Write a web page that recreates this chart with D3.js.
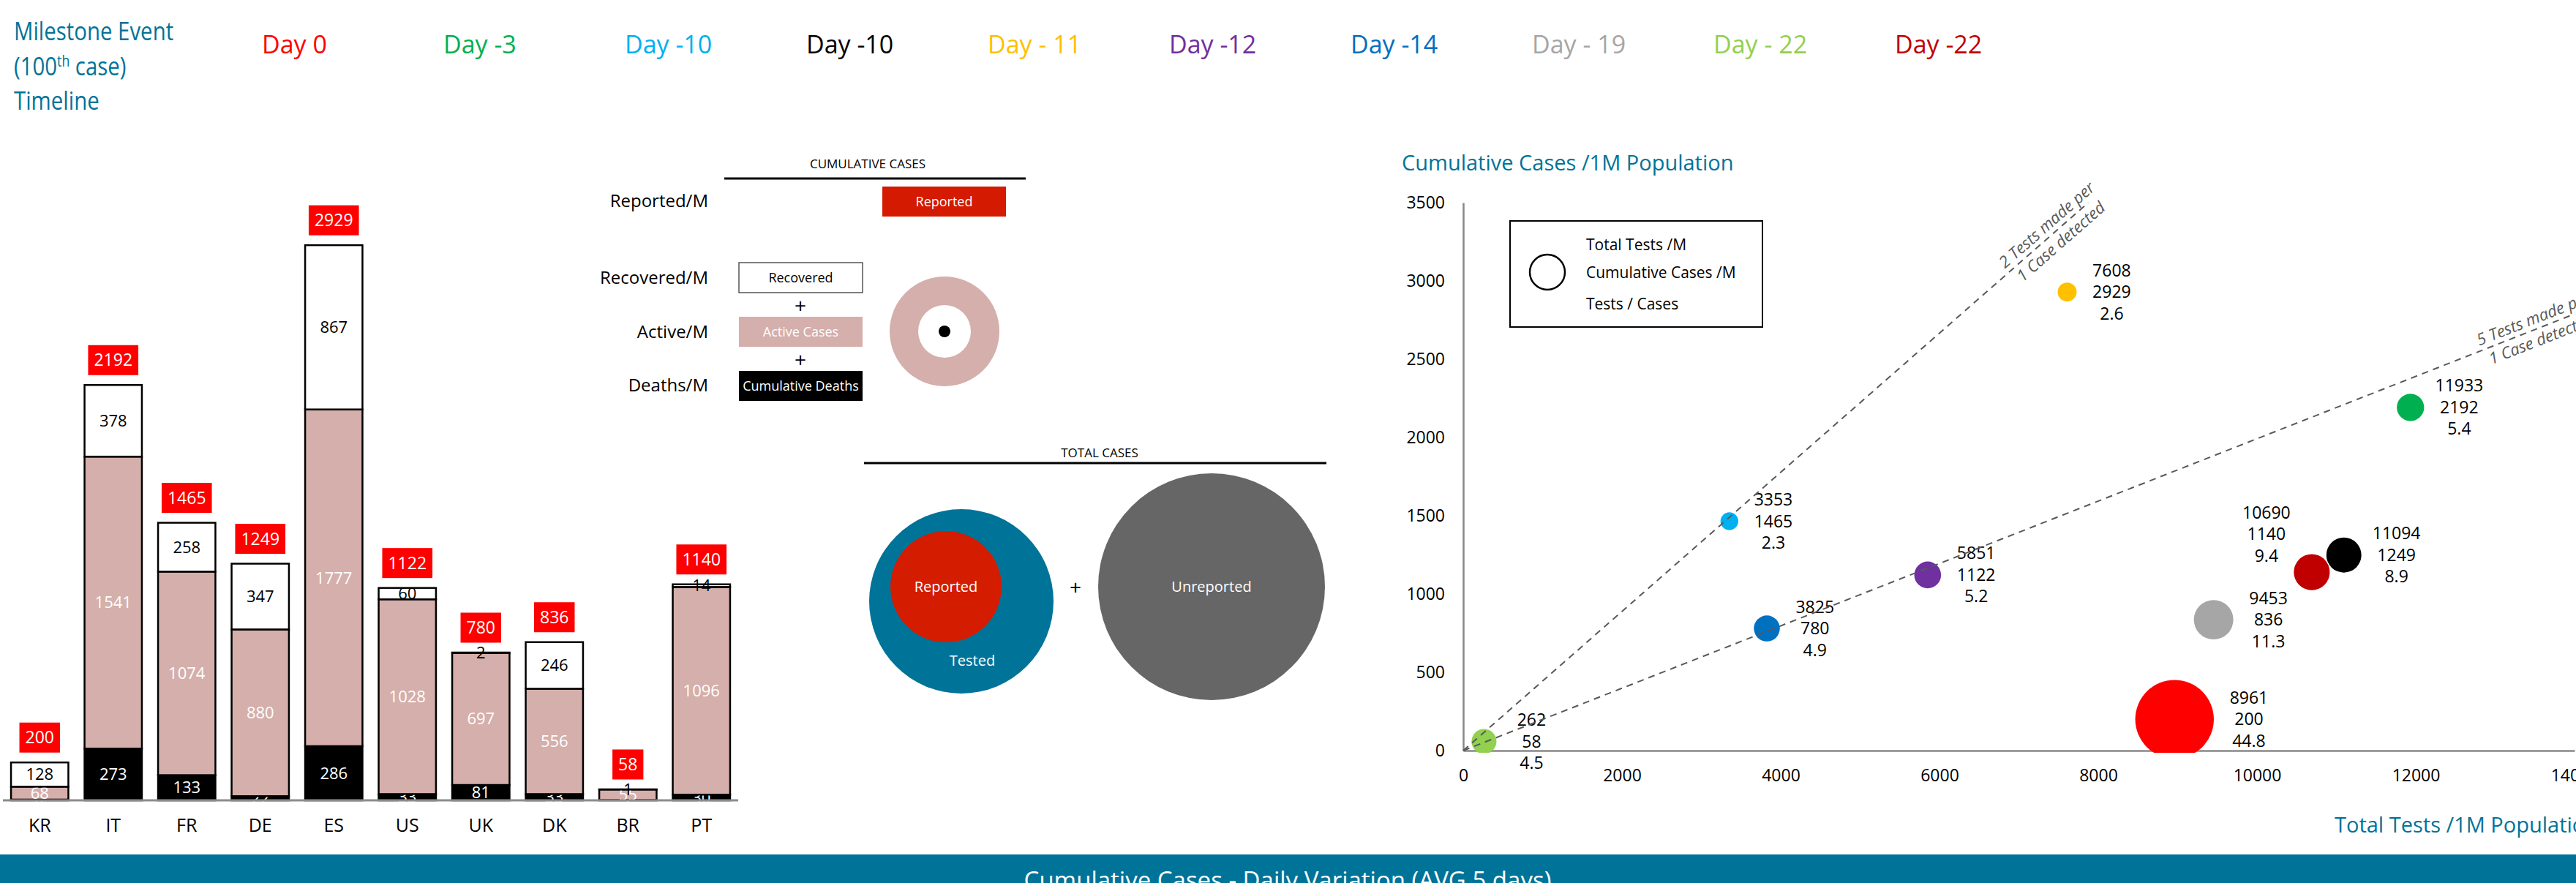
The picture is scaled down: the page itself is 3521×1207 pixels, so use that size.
<!DOCTYPE html>
<html>
<head>
<meta charset="utf-8">
<script src="https://cdn.jsdelivr.net/npm/d3@7"></script>
<style>
  body { margin: 0; background: #fff; }
  svg text { font-family: "Open Sans", sans-serif; }
</style>
</head>
<body>
<div id="chart"></div>
<script>
var width = 3521, height = 1207;
var teal = "#007398";

// milestone timeline (one per country, same order)
var dayLabels = ["Day 0", "Day -3", "Day -10", "Day -10", "Day - 11", "Day -12", "Day -14", "Day - 19", "Day - 22", "Day -22"];
var dayColors = ["#ff0000", "#00b050", "#00b0f0", "#000000", "#ffc000", "#7030a0", "#0070c0", "#a6a6a6", "#92d050", "#c00000"];

// cumulative cases per 1M population
var countries = ["KR", "IT", "FR", "DE", "ES", "US", "UK", "DK", "BR", "PT"];
var reported  = [200, 2192, 1465, 1249, 2929, 1122, 780, 836, 58, 1140];
var recovered = [128, 378, 258, 347, 867, 60, 2, 246, 1, 14];
var active    = [68, 1541, 1074, 880, 1777, 1028, 697, 556, 55, 1096];
var deaths    = [4, 273, 133, 22, 286, 33, 81, 33, 2, 30];

// tests per 1M population and tests per case
var totalTests   = [8961, 11933, 3353, 11094, 7608, 5851, 3825, 9453, 262, 10690];
var testsPerCase = [44.8, 5.4, 2.3, 8.9, 2.6, 5.2, 4.9, 11.3, 4.5, 9.4];

var xTicks = [0, 2000, 4000, 6000, 8000, 10000, 12000, 14000];
var yTicks = [0, 500, 1000, 1500, 2000, 2500, 3000, 3500];

// reference lines: tests made per case detected
var refRatios = [2.25, 5.02];
var refLabels = [["2 Tests made per", "1 Case detected"], ["5 Tests made per", "1 Case detected"]];

var svg = d3.select("#chart").append("svg")
    .attr("width", width)
    .attr("height", height);

// ---------- header ----------
var title = svg.append("text")
    .attr("transform", "translate(19,0) scale(0.84,1)")
    .attr("fill", teal)
    .style("font-size", "35px");
title.append("tspan").attr("x", 0).attr("y", 55).text("Milestone Event");
var t2 = title.append("tspan").attr("x", 0).attr("y", 103).text("(100");
t2.append("tspan").attr("dy", -12).style("font-size", "21px").text("th");
t2.append("tspan").attr("dy", 12).text(" case)");
title.append("tspan").attr("x", 0).attr("y", 150).text("Timeline");

svg.append("g").selectAll("text")
    .data(dayLabels)
    .enter().append("text")
      .attr("x", function(d, i) { return 358 + i * 248; })
      .attr("y", 73)
      .attr("fill", function(d, i) { return dayColors[i]; })
      .style("font-size", "34px")
      .text(function(d) { return d; });

// ---------- stacked bars ----------
var barData = countries.map(function(c, i) {
  return {country: c, deaths: deaths[i], active: active[i], recovered: recovered[i], reported: reported[i]};
});
var series = d3.stack().keys(["deaths", "active", "recovered"])(barData);

var xBar = d3.scaleBand().domain(countries).range([4, 1009]).paddingInner(0.22).paddingOuter(0.11);
var yBar = d3.scaleLinear().domain([0, 3000]).range([1094, 317]);

var segFill = {deaths: "#000000", active: "#d4afab", recovered: "#ffffff"};
var segText = {deaths: "#ffffff", active: "#ffffff", recovered: "#000000"};

var layer = svg.append("g").attr("class", "bars")
  .selectAll("g")
  .data(series)
  .enter().append("g");

layer.selectAll("rect")
  .data(function(s) { return s.map(function(d) { d.key = s.key; return d; }); })
  .enter().append("rect")
    .attr("x", function(d) { return xBar(d.data.country); })
    .attr("y", function(d) { return yBar(d[1]); })
    .attr("width", xBar.bandwidth())
    .attr("height", function(d) { return yBar(d[0]) - yBar(d[1]); })
    .attr("fill", function(d) { return segFill[d.key]; })
    .attr("stroke", "#000")
    .attr("stroke-width", 2.5);

layer.selectAll("text")
  .data(function(s) { return s; })
  .enter().append("text")
    .attr("x", function(d) { return xBar(d.data.country) + xBar.bandwidth() / 2; })
    .attr("y", function(d) { return (yBar(d[0]) + yBar(d[1])) / 2; })
    .attr("dy", "0.35em")
    .attr("text-anchor", "middle")
    .attr("fill", function(d) { return segText[d.key]; })
    .style("font-size", "22px")
    .text(function(d) { return d.data[d.key]; });

svg.append("line")
    .attr("x1", 4).attr("x2", 1009)
    .attr("y1", 1094).attr("y2", 1094)
    .attr("stroke", "#8c8c8c")
    .attr("stroke-width", 3);

var tags = svg.append("g").selectAll("g")
    .data(barData)
    .enter().append("g")
      .attr("transform", function(d) {
        return "translate(" + (xBar(d.country) + xBar.bandwidth() / 2) + "," + (yBar(d.deaths + d.active + d.recovered) - 34) + ")";
      });
tags.append("rect").attr("fill", "#ff0000");
var tagText = tags.append("text")
    .attr("text-anchor", "middle")
    .attr("dy", "0.35em")
    .attr("fill", "#fff")
    .style("font-size", "23px")
    .text(function(d) { return d.reported; });
tagText.each(function() {
  var w = this.getComputedTextLength() + 16;
  d3.select(this.parentNode).select("rect")
    .attr("x", -w / 2).attr("y", -20.5)
    .attr("width", w).attr("height", 41);
});

var xBarAxis = svg.append("g")
    .attr("transform", "translate(0,1094)")
    .call(d3.axisBottom(xBar).tickSize(0).tickPadding(25));
xBarAxis.select(".domain").remove();
xBarAxis.selectAll("text")
    .style("font-family", "'Open Sans', sans-serif")
    .style("font-size", "25px")
    .attr("fill", "#000");

// ---------- legend diagram ----------
var leg = svg.append("g");
leg.append("text").attr("x", 1186).attr("y", 230).attr("text-anchor", "middle")
    .style("font-size", "17px").text("CUMULATIVE CASES");
leg.append("line").attr("x1", 990).attr("x2", 1402).attr("y1", 244).attr("y2", 244)
    .attr("stroke", "#000").attr("stroke-width", 3);

var rowNames = ["Reported/M", "Recovered/M", "Active/M", "Deaths/M"];
var rowY = [275, 380, 454, 527];
leg.selectAll("text.row")
    .data(rowNames)
    .enter().append("text")
      .attr("class", "row")
      .attr("x", 968)
      .attr("y", function(d, i) { return rowY[i]; })
      .attr("dy", "0.35em")
      .attr("text-anchor", "end")
      .style("font-size", "24px")
      .text(function(d) { return d; });

var boxes = [
  {x: 1206, y: 255, text: "Reported", fill: "#d41a00", stroke: "none", color: "#fff"},
  {x: 1010, y: 359, text: "Recovered", fill: "#fff", stroke: "#555", color: "#000"},
  {x: 1010, y: 433, text: "Active Cases", fill: "#d4afab", stroke: "none", color: "#fff"},
  {x: 1010, y: 507, text: "Cumulative Deaths", fill: "#000", stroke: "none", color: "#fff"}
];
boxes.forEach(function(b) {
  leg.append("rect").attr("x", b.x).attr("y", b.y).attr("width", 169).attr("height", 41)
      .attr("fill", b.fill).attr("stroke", b.stroke).attr("stroke-width", 1.5);
  leg.append("text").attr("x", b.x + 84.5).attr("y", b.y + 20.5).attr("dy", "0.35em")
      .attr("text-anchor", "middle").attr("fill", b.color).style("font-size", "18px").text(b.text);
});
[418, 492].forEach(function(py) {
  leg.append("text").attr("x", 1094).attr("y", py).attr("dy", "0.35em")
      .attr("text-anchor", "middle").style("font-size", "28px").text("+");
});
leg.append("path")
    .attr("transform", "translate(1291,453)")
    .attr("d", d3.arc()({innerRadius: 36, outerRadius: 75, startAngle: 0, endAngle: 2 * Math.PI}))
    .attr("fill", "#d4afab");
leg.append("circle").attr("cx", 1291).attr("cy", 453).attr("r", 8).attr("fill", "#000");

leg.append("text").attr("x", 1503).attr("y", 625).attr("text-anchor", "middle")
    .style("font-size", "17px").text("TOTAL CASES");
leg.append("line").attr("x1", 1181).attr("x2", 1813).attr("y1", 633).attr("y2", 633)
    .attr("stroke", "#000").attr("stroke-width", 3);
leg.append("circle").attr("cx", 1314).attr("cy", 822).attr("r", 126).attr("fill", teal);
leg.append("circle").attr("cx", 1293).attr("cy", 802).attr("r", 76).attr("fill", "#d41c00");
leg.append("circle").attr("cx", 1656).attr("cy", 802).attr("r", 155).attr("fill", "#666666");
[[1293, 802, "Reported"], [1329, 903, "Tested"], [1656, 802, "Unreported"]].forEach(function(t) {
  leg.append("text").attr("x", t[0]).attr("y", t[1]).attr("dy", "0.35em")
      .attr("text-anchor", "middle").attr("fill", "#fff").style("font-size", "20px").text(t[2]);
});
leg.append("text").attr("x", 1470).attr("y", 803).attr("dy", "0.35em")
    .attr("text-anchor", "middle").style("font-size", "28px").text("+");

// ---------- scatter ----------
var x = d3.scaleLinear().domain([0, 14000]).range([2000, 3519]);
var y = d3.scaleLinear().domain([0, 3500]).range([1026, 277]);
var r = d3.scaleSqrt().domain([0, 45]).range([0, 53.8]);

svg.append("text").attr("x", 1916).attr("y", 233).attr("fill", teal)
    .style("font-size", "29px").text("Cumulative Cases /1M Population");
svg.append("text").attr("x", 3191).attr("y", 1138).attr("fill", teal)
    .style("font-size", "29px").text("Total Tests /1M Population");

var xAxis = svg.append("g")
    .attr("transform", "translate(0,1026)")
    .call(d3.axisBottom(x).tickValues(xTicks).tickSize(0).tickSizeOuter(0).tickPadding(26).tickFormat(d3.format("d")));
var yAxis = svg.append("g")
    .attr("transform", "translate(2000,0)")
    .call(d3.axisLeft(y).tickValues(yTicks).tickSize(0).tickSizeOuter(0).tickPadding(25).tickFormat(d3.format("d")));
[xAxis, yAxis].forEach(function(a) {
  a.select(".domain").attr("stroke", "#888").attr("stroke-width", 2.5);
  a.selectAll("text")
      .style("font-family", "'Open Sans', sans-serif")
      .style("font-size", "23px")
      .attr("fill", "#000");
});

// legend box
svg.append("rect").attr("x", 2064).attr("y", 302).attr("width", 345).attr("height", 145)
    .attr("fill", "none").attr("stroke", "#000").attr("stroke-width", 2);
svg.append("circle").attr("cx", 2115).attr("cy", 372).attr("r", 24)
    .attr("fill", "none").attr("stroke", "#000").attr("stroke-width", 2.5);
[[335, "Total Tests /M"], [373, "Cumulative Cases /M"], [416, "Tests / Cases"]].forEach(function(t) {
  svg.append("text").attr("x", 2168).attr("y", t[0]).attr("dy", "0.35em")
      .style("font-size", "21px").text(t[1]);
});

svg.append("clipPath").attr("id", "plot")
  .append("rect").attr("x", 2000).attr("y", 200).attr("width", 1521).attr("height", 829);

var points = countries.map(function(c, i) {
  return {country: c, tests: totalTests[i], cases: reported[i], ratio: testsPerCase[i], color: dayColors[i]};
}).sort(function(a, b) { return b.ratio - a.ratio; });

svg.append("g").attr("clip-path", "url(#plot)")
  .selectAll("circle")
  .data(points)
  .enter().append("circle")
    .attr("cx", function(d) { return x(d.tests); })
    .attr("cy", function(d) { return y(d.cases); })
    .attr("r", function(d) { return r(d.ratio); })
    .attr("fill", function(d) { return d.color; });

var labels = svg.append("g").selectAll("text")
    .data(points)
    .enter().append("text")
      .attr("text-anchor", "middle")
      .style("font-size", "23px")
      .attr("transform", function(d) {
        var lx = x(d.tests) + r(d.ratio) + 48, ly = y(d.cases);
        if (d.country === "PT") { lx = x(d.tests) - 62; ly = y(d.cases) - 52; }
        return "translate(" + lx + "," + ly + ")";
      });
labels.each(function(d) {
  var t = d3.select(this);
  [d.tests, d.cases, d.ratio].forEach(function(v, k) {
    t.append("tspan").attr("x", 0).attr("y", (k - 1) * 29.5).attr("dy", "0.35em").text(v);
  });
});

// reference lines over bubbles
var labelPos = [0.872, 0.916];
refRatios.forEach(function(ratio, i) {
  var xe = Math.min(14000, 3500 * ratio), ye = xe / ratio;
  svg.append("line")
      .attr("x1", x(0)).attr("y1", y(0))
      .attr("x2", x(xe)).attr("y2", y(ye))
      .attr("stroke", "#595959").attr("stroke-width", 2)
      .attr("stroke-dasharray", "9,7");
  var ang = Math.atan2(y(ye) - y(0), x(xe) - x(0)) * 180 / Math.PI;
  var lx = x(xe * labelPos[i]), ly = y(ye * labelPos[i]);
  var g = svg.append("g").attr("transform", "translate(" + lx + "," + ly + ") rotate(" + ang + ")");
  g.append("text").attr("x", 0).attr("y", -7).attr("fill", "#595959")
      .style("font-size", "22px").style("font-style", "italic").text(refLabels[i][0]);
  g.append("text").attr("x", 6).attr("y", 23).attr("fill", "#595959")
      .style("font-size", "22px").style("font-style", "italic").text(refLabels[i][1]);
});

// ---------- bottom banner ----------
svg.append("rect").attr("x", 0).attr("y", 1168).attr("width", width).attr("height", 39).attr("fill", teal);
svg.append("text").attr("x", 1760).attr("y", 1215).attr("text-anchor", "middle")
    .attr("fill", "#fff").style("font-size", "33px")
    .text("Cumulative Cases - Daily Variation (AVG 5 days)");
</script>
</body>
</html>
